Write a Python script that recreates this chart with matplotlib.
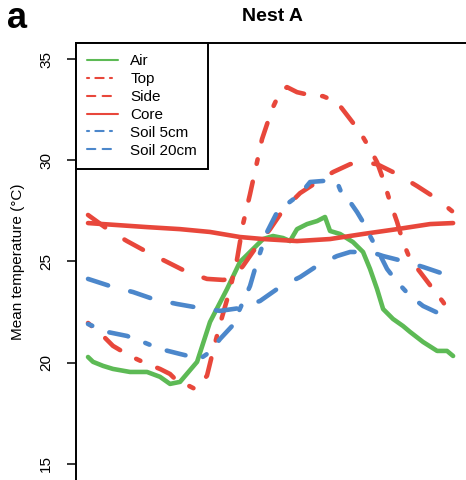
"""Mean nest temperature over the day, Nest A (panel a)."""
import matplotlib
matplotlib.use("Agg")
import matplotlib.pyplot as plt
from matplotlib.lines import Line2D

plt.rcParams["font.family"] = ["Liberation Sans", "DejaVu Sans"]

# hours of the day and mean temperature (°C)
air_h = [0, 0.33, 0.99, 1.64, 2.76, 3.88, 4.73, 5.39, 6.05, 7.17, 8.02, 9.14,
         9.99, 10.65, 11.51, 12.16, 12.82, 13.28, 13.74, 14.40, 15.06, 15.58,
         15.91, 16.57, 17.42, 18.08, 18.54, 19.00, 19.40, 20.05, 20.71, 21.17,
         22.03, 22.95, 23.60, 24.0]
air_t = [20.28, 20.04, 19.84, 19.69, 19.54, 19.54, 19.30, 18.95, 19.05, 20.04,
         22.01, 23.64, 24.98, 25.47, 26.11, 26.26, 26.16, 26.01, 26.60, 26.85,
         27.00, 27.20, 26.51, 26.36, 25.96, 25.47, 24.63, 23.64, 22.65, 22.16,
         21.81, 21.52, 21.02, 20.58, 20.58, 20.33]

top_h = [0, 0.99, 1.64, 2.76, 3.88, 4.73, 5.39, 5.92, 6.25, 7.03, 7.82, 8.22,
         8.68, 9.34, 9.80, 10.19, 10.65, 11.11, 11.44, 12.10, 12.62, 13.08,
         13.74, 14.60, 15.45, 16.37, 17.23, 17.88, 18.54, 19.00, 19.40, 19.86,
         20.32, 20.71, 21.17, 21.83, 22.68, 23.34, 23.93]
top_t = [21.96, 21.32, 20.83, 20.33, 19.94, 19.69, 19.44, 19.05, 19.00, 18.70,
         19.35, 20.58, 21.91, 23.64, 25.12, 26.85, 28.33, 29.91, 31.05, 32.53,
         33.37, 33.62, 33.37, 33.22, 33.17, 32.88, 32.04, 31.40, 30.56, 29.91,
         29.07, 27.94, 26.95, 25.96, 25.12, 24.48, 23.64, 23.00, 22.31]

side_h = [0, 1.45, 2.56, 3.88, 5.19, 6.51, 7.82, 8.88, 9.47, 10.19, 11.11,
          11.97, 12.82, 13.94, 15.06, 16.11, 17.23, 18.08, 19.00, 20.32, 21.63,
          22.95, 23.93]
side_t = [27.30, 26.51, 26.01, 25.47, 24.98, 24.48, 24.14, 24.09, 24.14, 24.78,
          25.77, 26.60, 27.54, 28.38, 28.93, 29.42, 29.81, 29.91, 29.81, 29.32,
          28.73, 28.09, 27.49]

core_h = [0, 3.88, 6.05, 8.02, 9.99, 11.51, 13.74, 15.91, 18.08, 20.32, 22.49,
          24.0]
core_t = [26.90, 26.70, 26.60, 26.46, 26.21, 26.11, 26.01, 26.11, 26.36, 26.60,
          26.85, 26.90]

soil5_h = [0, 1.25, 2.56, 3.62, 4.73, 6.05, 7.36, 8.02, 8.68, 9.47, 10.19,
           10.65, 11.11, 11.77, 12.43, 13.08, 13.94, 14.60, 15.45, 16.37, 16.77,
           17.23, 17.69, 18.08, 18.54, 19.00, 19.66, 20.32, 21.17, 22.03, 23.14,
           23.93]
soil5_t = [21.91, 21.52, 21.32, 21.02, 20.68, 20.43, 20.19, 20.53, 21.17, 21.81,
           23.00, 23.79, 24.98, 26.46, 27.44, 27.84, 28.33, 28.93, 28.98, 28.93,
           28.19, 27.94, 27.44, 26.95, 26.26, 25.62, 24.63, 23.99, 23.30, 22.80,
           22.41, 22.11]

soil20_h = [0, 1.64, 2.96, 4.27, 5.85, 7.36, 8.68, 9.99, 11.31, 12.62, 13.94,
            15.25, 16.37, 17.23, 18.08, 19.00, 19.40, 20.71, 22.03, 23.60, 23.93]
soil20_t = [24.14, 23.74, 23.49, 23.15, 22.90, 22.70, 22.56, 22.70, 23.05,
            23.74, 24.23, 24.88, 25.27, 25.47, 25.47, 25.37, 25.27, 25.02,
            24.73, 24.33, 24.28]

GREEN, RED, BLUE = "#5DBA55", "#E8473B", "#4C87CB"
DASHED = (4.6, 5)
DOTDASH = (1, 4, 4.2, 4)

series = [
    ("Air", air_h, air_t, GREEN, None),
    ("Top", top_h, top_t, RED, DOTDASH),
    ("Side", side_h, side_t, RED, DASHED),
    ("Core", core_h, core_t, RED, None),
    ("Soil 5cm", soil5_h, soil5_t, BLUE, DOTDASH),
    ("Soil 20cm", soil20_h, soil20_t, BLUE, DASHED),
]

fig = plt.figure(figsize=(4.66, 4.80), dpi=100)
# the panel is cropped: right and bottom edges of the plot run off the figure
ax = fig.add_axes([76 / 466, 0.0, 392 / 466, 437 / 480])

handles = []
for label, h, t, color, dash in series:
    kw = dict(color=color, solid_capstyle="round", dash_capstyle="round",
              solid_joinstyle="round")
    line, = ax.plot(h, t, lw=3.3, **kw)
    if dash:
        line.set_dashes(dash)
    hl = Line2D([], [], lw=1.5, **kw)
    if dash:
        hl.set_dashes((4, 3.5) if dash == DASHED else (1, 3, 4, 3))
    handles.append((hl, label))

ax.set_xlim(-0.79, 24.98)
ax.set_ylim(14.2, 35.8)
ax.set_yticks([15, 20, 25, 30, 35])
ax.set_xticks([])
ax.tick_params(axis="y", length=6.5, width=1.1, pad=10, labelsize=11,
               labelrotation=90)
for lab in ax.get_yticklabels():
    lab.set_va("center")
for s in ("left", "top", "right", "bottom"):
    ax.spines[s].set_linewidth(1.4)
ax.spines["bottom"].set_visible(False)

ax.set_ylabel("Mean temperature (°C)", fontsize=11, va="center")
ax.yaxis.set_label_coords(-0.148, 0.5)
ax.set_title("Nest A", fontsize=14, fontweight="bold", pad=16)

leg = ax.legend([h for h, _ in handles], [l for _, l in handles],
                loc="upper left", bbox_to_anchor=(0, 1), borderaxespad=0,
                fontsize=11, handlelength=2.0, handletextpad=0.8,
                labelspacing=0.25, borderpad=0.75, fancybox=False,
                framealpha=1, edgecolor="black")
leg.get_frame().set_linewidth(1.4)

fig.text(7 / 466, 1 - 28 / 480, "a", fontsize=26, fontweight="bold",
         va="baseline", ha="left")

fig.savefig("out.png", dpi=100)
